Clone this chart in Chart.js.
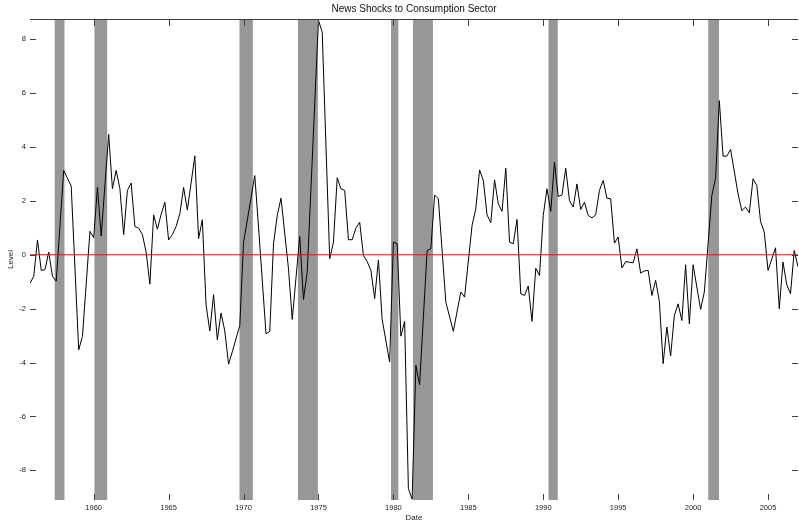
<!DOCTYPE html>
<html>
<head>
<meta charset="utf-8">
<script src="https://cdn.jsdelivr.net/npm/chart.js@4"></script>
<style>
  html, body { margin: 0; padding: 0; background: #fff; }
  #wrap { width: 799px; height: 525px; }
</style>
</head>
<body>
<div id="wrap"><canvas id="newsChart" width="799" height="525"></canvas></div>
<script>
const chartTitle = 'News Shocks to Consumption Sector';

// quarterly dates (turning points)
const dates = [
    1955.75, 1956.0, 1956.25, 1956.5, 1956.75, 1957.0, 1957.25, 1957.5, 1958.0, 1958.5,
    1959.0, 1959.25, 1959.75, 1960.0, 1960.25, 1960.5, 1961.0, 1961.25, 1961.5, 1961.75,
    1962.0, 1962.25, 1962.5, 1962.75, 1963.0, 1963.25, 1963.5, 1963.75, 1964.0, 1964.25,
    1964.5, 1964.75, 1965.0, 1965.25, 1965.5, 1965.75, 1966.0, 1966.25, 1966.75, 1967.0,
    1967.25, 1967.5, 1967.75, 1968.0, 1968.25, 1968.5, 1968.75, 1969.0, 1969.25, 1969.75,
    1970.0, 1970.75, 1971.0, 1971.5, 1971.75, 1972.0, 1972.25, 1972.5, 1973.0, 1973.25,
    1973.75, 1974.0, 1974.25, 1975.0, 1975.25, 1975.75, 1976.0, 1976.25, 1976.5, 1976.75,
    1977.0, 1977.25, 1977.5, 1977.75, 1978.0, 1978.25, 1978.5, 1978.75, 1979.0, 1979.25,
    1979.75, 1980.0, 1980.25, 1980.5, 1980.75, 1981.0, 1981.25, 1981.5, 1981.75, 1982.25,
    1982.5, 1982.75, 1983.0, 1983.5, 1984.0, 1984.5, 1984.75, 1985.25, 1985.5, 1985.75,
    1986.0, 1986.25, 1986.5, 1986.75, 1987.0, 1987.25, 1987.5, 1987.75, 1988.0, 1988.25,
    1988.5, 1988.75, 1989.0, 1989.25, 1989.5, 1989.75, 1990.0, 1990.25, 1990.5, 1990.75,
    1991.0, 1991.25, 1991.5, 1991.75, 1992.0, 1992.25, 1992.5, 1992.75, 1993.0, 1993.25,
    1993.5, 1993.75, 1994.0, 1994.25, 1994.5, 1994.75, 1995.0, 1995.25, 1995.5, 1995.75,
    1996.0, 1996.25, 1996.5, 1996.75, 1997.0, 1997.25, 1997.5, 1997.75, 1998.0, 1998.25,
    1998.5, 1998.75, 1999.0, 1999.25, 1999.5, 1999.75, 2000.0, 2000.5, 2000.75, 2001.25,
    2001.5, 2001.75, 2002.0, 2002.25, 2002.5, 2003.0, 2003.25, 2003.5, 2003.75, 2004.0,
    2004.25, 2004.5, 2004.75, 2005.0, 2005.5, 2005.75, 2006.0, 2006.25, 2006.5, 2006.75,
    2007.0
];

const shocks = [
    -1.05, -0.8, 0.55, -0.58, -0.55, 0.1, -0.8, -0.98, 3.13, 2.55,
    -3.53, -3.03, 0.87, 0.63, 2.5, 0.7, 4.47, 2.45, 3.13, 2.45,
    0.75, 2.39, 2.66, 1.05, 0.99, 0.75, 0.1, -1.09, 1.48, 0.95,
    1.5, 1.95, 0.55, 0.75, 1.05, 1.53, 2.5, 1.66, 3.67, 0.6,
    1.3, -1.86, -2.83, -1.48, -3.16, -2.16, -2.83, -4.06, -3.6, -2.62,
    0.45, 2.94, 1.03, -2.93, -2.84, 0.41, 1.46, 2.1, -0.52, -2.4,
    0.68, -1.66, -0.64, 8.7, 8.26, -0.15, 0.47, 2.86, 2.45, 2.39,
    0.56, 0.56, 0.99, 1.21, -0.02, -0.25, -0.58, -1.63, -0.19, -2.4,
    -3.98, 0.47, 0.41, -3.02, -2.47, -8.68, -9.07, -4.1, -4.82, 0.16,
    0.22, 2.22, 2.08, -1.76, -2.84, -1.38, -1.57, 1.09, 1.71, 3.15,
    2.76, 1.48, 1.19, 2.78, 1.89, 1.61, 3.21, 0.47, 0.41, 1.31,
    -1.45, -1.51, -1.16, -2.47, -0.5, -0.77, 1.46, 2.45, 1.61, 3.44,
    2.16, 2.22, 3.21, 2.01, 1.77, 2.63, 1.68, 1.95, 1.46, 1.37,
    1.48, 2.39, 2.76, 2.1, 2.08, 0.43, 0.66, -0.49, -0.25, -0.28,
    -0.3, 0.22, -0.68, -0.6, -0.58, -1.51, -0.95, -1.73, -4.04, -2.68,
    -3.76, -2.25, -1.82, -2.44, -0.37, -2.56, -0.37, -2.03, -1.38, 2.2,
    2.84, 5.72, 3.66, 3.66, 3.91, 2.26, 1.64, 1.77, 1.56, 2.82,
    2.57, 1.24, 0.84, -0.58, 0.26, -2.0, -0.27, -1.11, -1.45, 0.16,
    -0.45
];

// recession shading
const recessionStart = [1957.4, 1960.05, 1969.73, 1973.63, 1979.84, 1981.31, 1990.35, 2001.01];
const recessionEnd   = [1958.05, 1960.9, 1970.62, 1974.96, 1980.33, 1982.64, 1990.97, 2001.73];

const xTickYears = [1960, 1965, 1970, 1975, 1980, 1985, 1990, 1995, 2000, 2005];
const yTickLevels = [-8, -6, -4, -2, 0, 2, 4, 6, 8];

const fontFamily = '"Liberation Sans", Arial, Helvetica, sans-serif';

const framePlugin = {
    id: 'frame',
    beforeDatasetsDraw(chart) {
        const { ctx, chartArea: a, scales: { x } } = chart;
        ctx.save();
        ctx.fillStyle = '#979797';
        recessionStart.forEach((s, i) => {
            const x0 = x.getPixelForValue(s);
            const x1 = x.getPixelForValue(recessionEnd[i]);
            ctx.fillRect(x0, a.top, x1 - x0, a.bottom - a.top);
        });
        ctx.restore();
    },
    afterDraw(chart) {
        const { ctx, chartArea: a, scales: { x, y } } = chart;
        ctx.save();
        ctx.strokeStyle = '#404040';
        ctx.lineWidth = 1;
        ctx.beginPath();
        ctx.moveTo(a.left, a.top + 0.5);
        ctx.lineTo(a.right, a.top + 0.5);
        xTickYears.forEach(v => {
            const px = Math.round(x.getPixelForValue(v)) + 0.5;
            ctx.moveTo(px, a.top);
            ctx.lineTo(px, a.top + 7);
            ctx.moveTo(px, a.bottom);
            ctx.lineTo(px, a.bottom - 6);
        });
        yTickLevels.forEach(v => {
            const py = Math.round(y.getPixelForValue(v)) + 0.5;
            ctx.moveTo(a.left, py);
            ctx.lineTo(a.left + 6, py);
            ctx.moveTo(a.right, py);
            ctx.lineTo(a.right - 6, py);
        });
        ctx.stroke();

        ctx.fillStyle = '#111';
        ctx.font = '10px ' + fontFamily;
        ctx.textAlign = 'center';
        ctx.textBaseline = 'middle';
        ctx.fillText(chartTitle, (a.left + a.right) / 2, 9);
        ctx.restore();
    }
};

new Chart(document.getElementById('newsChart'), {
    type: 'line',
    data: {
        datasets: [
            {
                label: 'Zero',
                data: [{ x: dates[0], y: 0 }, { x: dates[dates.length - 1], y: 0 }],
                borderColor: '#ff0000',
                borderWidth: 1,
                pointRadius: 0,
                order: 0
            },
            {
                label: 'News shock',
                data: dates.map((d, i) => ({ x: d, y: shocks[i] })),
                borderColor: '#000000',
                borderWidth: 1,
                pointRadius: 0,
                tension: 0,
                order: 1
            }
        ]
    },
    options: {
        responsive: false,
        animation: false,
        devicePixelRatio: 1,
        layout: { padding: { top: 19, right: 1, left: 0, bottom: 0 } },
        plugins: {
            legend: { display: false },
            tooltip: { enabled: false },
            title: { display: false }
        },
        scales: {
            x: {
                type: 'linear',
                min: 1955.75,
                max: 2007,
                grid: { display: false, drawTicks: false, tickLength: 0 },
                border: { display: false },
                afterBuildTicks: s => { s.ticks = xTickYears.map(v => ({ value: v })); },
                afterFit: s => { s.height = 25; },
                ticks: {
                    padding: 3,
                    color: '#222',
                    autoSkip: false,
                    maxRotation: 0,
                    font: { size: 7.5, family: fontFamily },
                    callback: v => String(v)
                },
                title: {
                    display: true,
                    text: 'Date',
                    color: '#222',
                    font: { size: 8, family: fontFamily },
                    padding: { top: 0, bottom: 2 }
                }
            },
            y: {
                type: 'linear',
                min: -9.1,
                max: 8.75,
                grid: { display: false, drawTicks: false, tickLength: 0 },
                border: { display: false },
                afterBuildTicks: s => { s.ticks = yTickLevels.map(v => ({ value: v })); },
                afterFit: s => { s.width = 30; },
                ticks: {
                    padding: 4,
                    color: '#222',
                    font: { size: 7.5, family: fontFamily },
                    callback: v => String(v)
                },
                title: {
                    display: true,
                    text: 'Level',
                    color: '#222',
                    font: { size: 8, family: fontFamily },
                    padding: { top: 6, bottom: 0 }
                }
            }
        }
    },
    plugins: [framePlugin]
});
</script>
</body>
</html>
